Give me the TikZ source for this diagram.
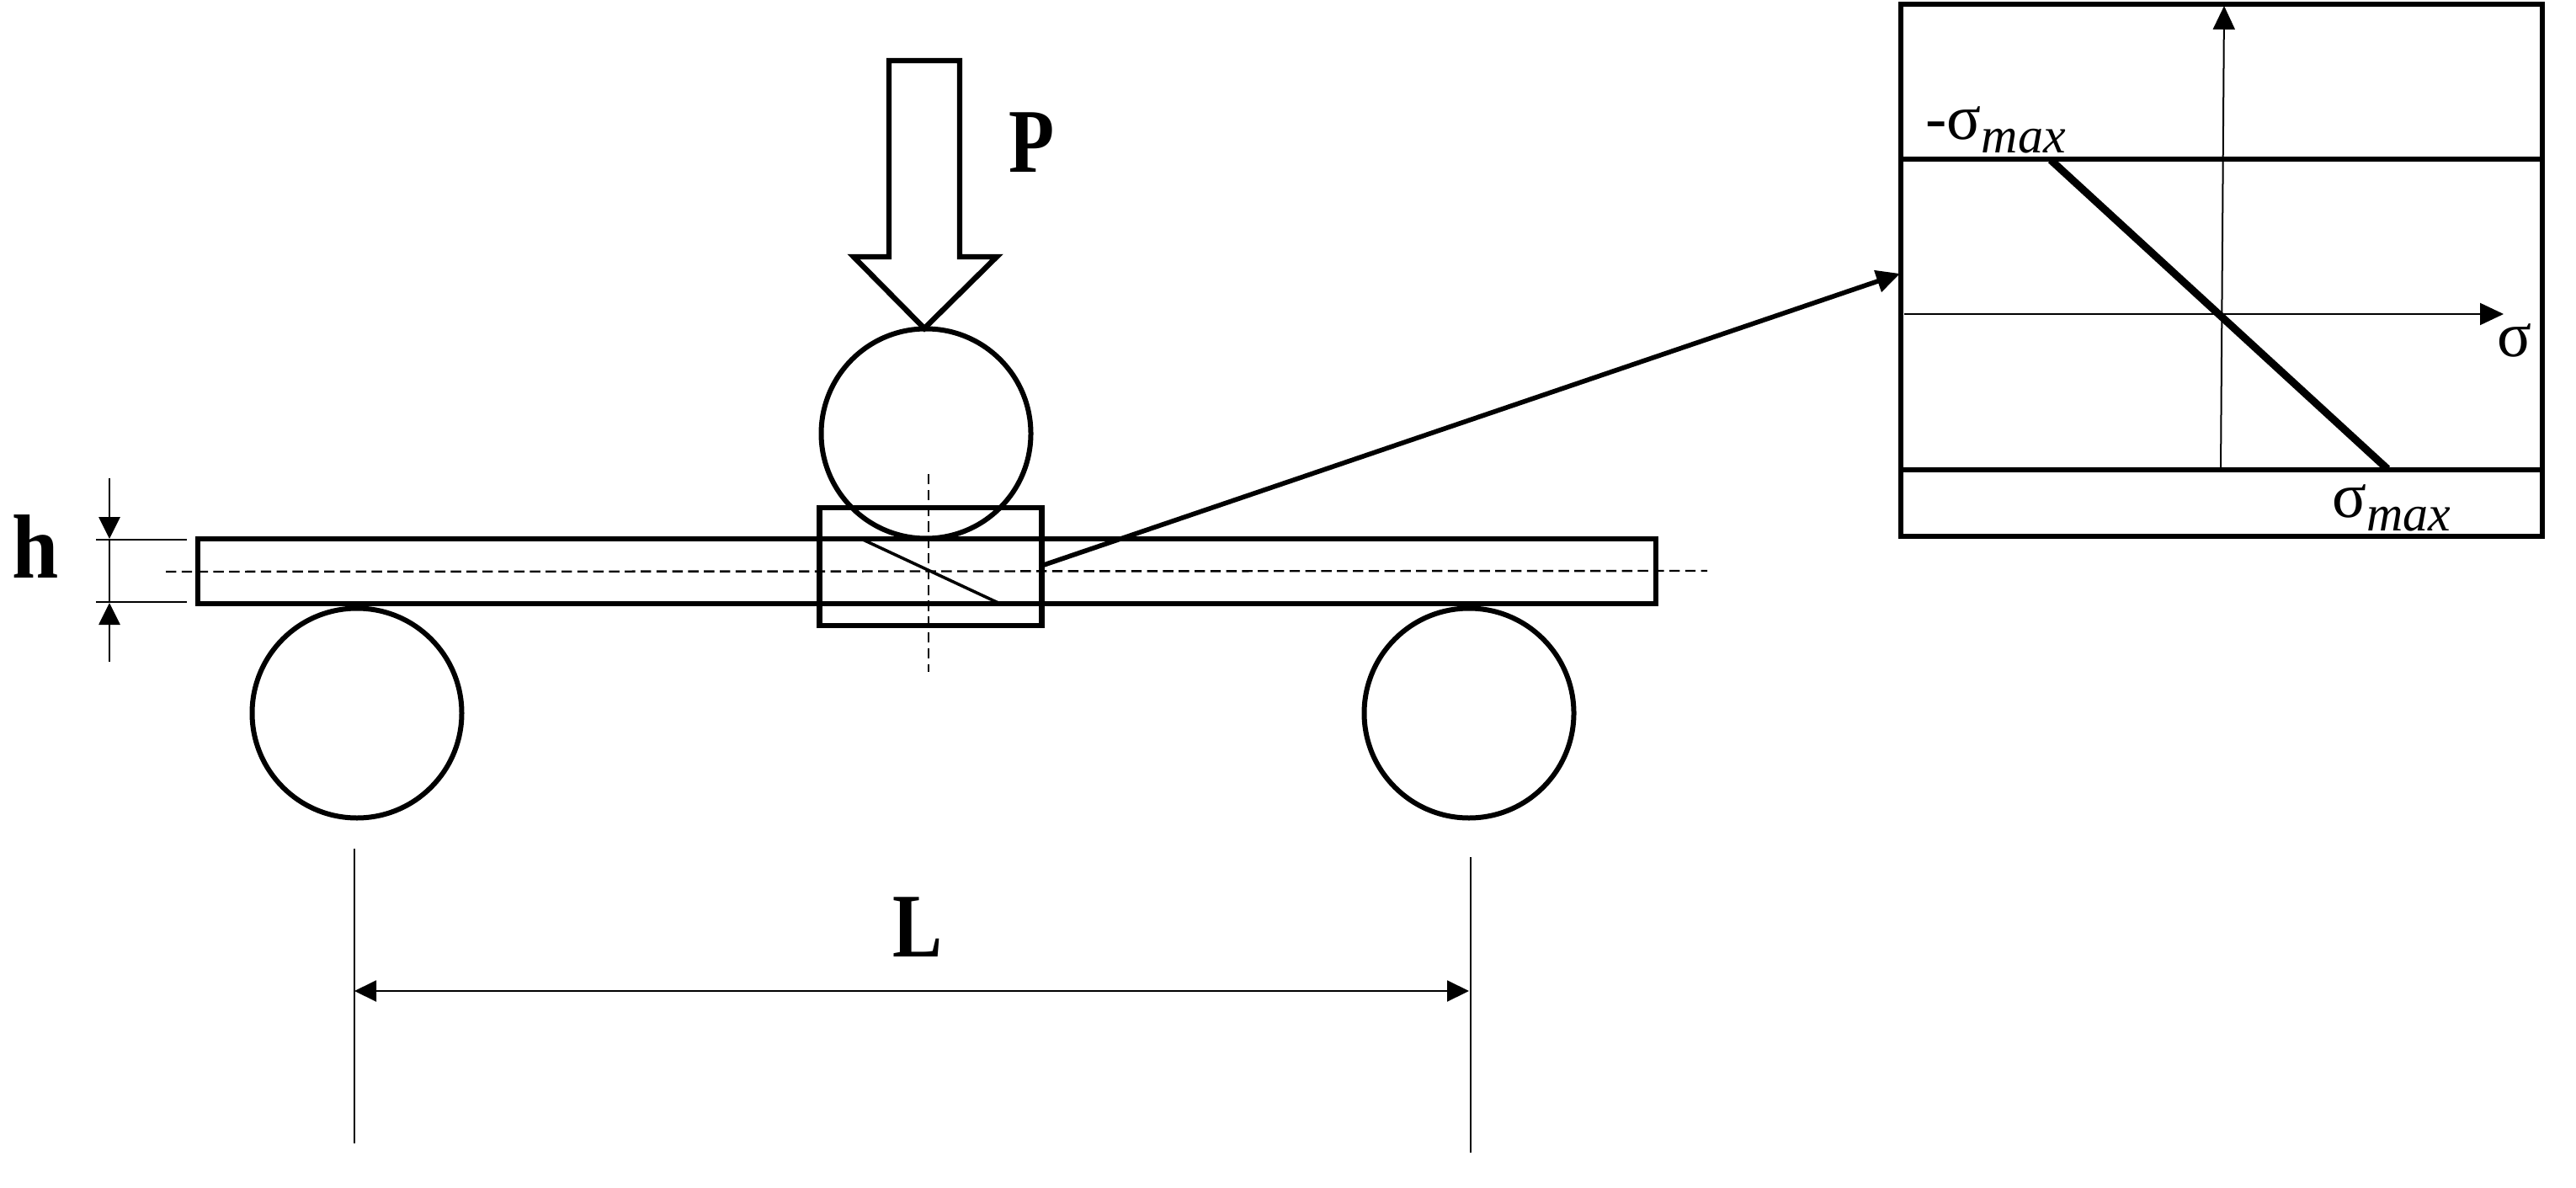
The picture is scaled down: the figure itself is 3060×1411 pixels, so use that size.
\documentclass[tikz,border=0pt]{standalone}
\usepackage{fontspec}
\setmainfont{Liberation Serif}
\usetikzlibrary{arrows.meta}
\tikzset{
  heavy/.style={draw=black,line width=3.2pt,miter limit=10},
  beamline/.style={draw=black,line width=3pt,rectangle,inner sep=0pt,minimum width=#1},
  roller/.style={draw=black,line width=3pt,circle,inner sep=0pt,minimum size=124.5pt},
  thin line/.style={draw=black,line width=1pt},
  tipped/.style={-{Triangle[length=14pt,width=13pt]}},
  dimtip/.style={-{Triangle[length=13pt,width=12.5pt]}},
  centerdash/.style={draw=black,line width=1.2pt,dash pattern=on 6.2pt off 3.2pt},
  biglabel/.style={inner sep=0pt,font=\fontsize{54}{54}\selectfont\bfseries},
  sigmalabel/.style={inner sep=0pt,anchor=base west,font=\fontsize{38}{38}\selectfont},
}
\newcommand{\maxsub}{\raisebox{-8pt}{\fontsize{30}{30}\selectfont\itshape max}}
\newcommand{\narrow}[1]{\scalebox{0.82}[1]{#1}}
\begin{document}
\begin{tikzpicture}[x=0.5pt,y=-0.5pt]
\useasboundingbox (0,0) rectangle (3060,1411);
% beam, zoom box, rollers
\node[beamline=866pt,minimum height=38.5pt] (beam) at (1101,678.5) {};
\node[draw=black,line width=3.2pt,rectangle,inner sep=0pt,minimum width=132pt,minimum height=70pt] (zoombox) at (1105.5,673) {};
\node[roller] (top) at (1100,515) {};
\node[roller] (rl) at (424,847) {};
\node[roller] (rr) at (1745,847) {};
% load arrow
\coordinate (a1) at (1056,72); \coordinate (a2) at (1140,72);
\coordinate (a3) at (1140,305); \coordinate (a4) at (1184,305);
\coordinate (a5) at (1098,390); \coordinate (a6) at (1014,305);
\coordinate (a7) at (1056,305);
\draw[heavy] (a1) -- (a2) -- (a3) -- (a4) -- (a5) -- (a6) -- (a7) -- cycle;
\node[biglabel] (P) at (1226,169) {\narrow{P}};
% centre lines
\coordinate (hl) at (197,679); \coordinate (hr) at (2028,678);
\coordinate (vt) at (1103,563); \coordinate (vb) at (1103,798);
\draw[centerdash] (hl) -- (hr);
\draw[centerdash] (vt) -- (vb);
% stress in zoom box
\coordinate (s1) at (1023,640); \coordinate (s2) at (1188,717);
\draw[black,line width=1.8pt] (s1) -- (s2);
% h dimension
\coordinate (h1) at (114,641); \coordinate (h2) at (222,641);
\coordinate (h3) at (114,715); \coordinate (h4) at (222,715);
\coordinate (h5) at (130,568); \coordinate (h6) at (130,640);
\coordinate (h7) at (130,786); \coordinate (h8) at (130,716);
\draw[thin line,line width=1.4pt] (h1) -- (h2);
\draw[thin line,line width=1.4pt] (h3) -- (h4);
\draw[thin line,line width=1.4pt] (h6) -- (h8);
\draw[thin line,line width=1.4pt,dimtip] (h5) -- (h6);
\draw[thin line,line width=1.4pt,dimtip] (h7) -- (h8);
\node[biglabel,anchor=base] (h) at (42,686) {\scalebox{0.92}[1]{h}};
% L dimension
\coordinate (l1) at (421,1008); \coordinate (l2) at (421,1358);
\coordinate (l3) at (1747,1018); \coordinate (l4) at (1747,1369);
\coordinate (l5) at (421,1177); \coordinate (l6) at (1745,1177);
\draw[thin line] (l1) -- (l2);
\draw[thin line] (l3) -- (l4);
\draw[thin line,{Triangle[length=13pt,width=12.5pt]}-{Triangle[length=13pt,width=12.5pt]}] (l5) -- (l6);
\node[biglabel] (L) at (1090,1101) {\narrow{L}};
% inset
\node[draw=black,line width=3.2pt,rectangle,inner sep=0pt,minimum width=381pt,minimum height=316pt] (inset) at (2639,321) {};
\coordinate (z1) at (2260,189); \coordinate (z2) at (3019,189);
\coordinate (z3) at (2260,558); \coordinate (z4) at (3019,558);
\draw[black,line width=3.2pt] (z1) -- (z2);
\draw[black,line width=3.2pt] (z3) -- (z4);
\coordinate (ax1) at (2638,556); \coordinate (ax2) at (2642,7);
\coordinate (ax3) at (2262,373); \coordinate (ax4) at (2974,373);
\draw[thin line,tipped] (ax1) -- (ax2);
\draw[thin line,tipped] (ax3) -- (ax4);
\coordinate (d1) at (2436,190); \coordinate (d2) at (2836,557);
\draw[black,line width=4.5pt] (d1) -- (d2);
\node[sigmalabel] (smin) at (2287,166) {-σ\maxsub};
\node[sigmalabel] (smax) at (2770,614) {σ\maxsub};
\node[sigmalabel] (s) at (2966,424) {σ};
% zoom arrow
\coordinate (zs) at (1237,672); \coordinate (ze) at (2257,325);
\draw[black,line width=2.8pt,tipped] (zs) -- (ze);
\end{tikzpicture}
\end{document}
